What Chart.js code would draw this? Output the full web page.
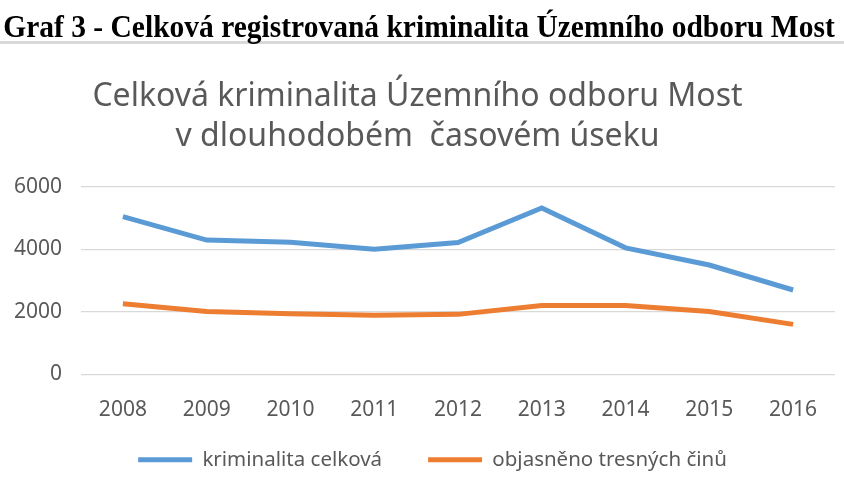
<!DOCTYPE html>
<html>
<head>
<meta charset="utf-8">
<script src="https://cdn.jsdelivr.net/npm/chart.js@4.4.1/dist/chart.umd.min.js"></script>
<style>
  html, body { margin: 0; padding: 0; background: #fff; }
  #wrap { position: relative; width: 844px; height: 492px; overflow: hidden; }
  #heading {
    position: absolute; left: 419px; top: 8px;
    font-family: "Liberation Serif", "Times New Roman", serif;
    font-weight: bold; font-size: 32px; line-height: 36px;
    color: #000; white-space: nowrap;
    transform: translateX(-50%) scaleX(0.922);
  }
  #rule { position: absolute; left: 0; top: 41px; width: 844px; height: 3px; background: #d9d9d9; }
  #chartBox { position: absolute; left: 0; top: 0; width: 844px; height: 492px; }
</style>
</head>
<body>
<div id="wrap">
  <canvas id="chartBox" width="844" height="492"></canvas>
  <div id="rule"></div>
  <div id="heading">Graf 3 - Celková registrovaná kriminalita Územního odboru Most</div>
</div>
<script>
// data
const years = ['2008', '2009', '2010', '2011', '2012', '2013', '2014', '2015', '2016'];
const totalCrime = [5050, 4300, 4230, 4010, 4220, 5330, 4050, 3500, 2700];
const solvedCrime = [2260, 2010, 1940, 1890, 1920, 2200, 2200, 2010, 1600];
const yTicks = [0, 2000, 4000, 6000];

const seriesNames = ['kriminalita celková', 'objasněno tresných činů'];
const titleLines = ['Celková kriminalita Územního odboru Most', 'v dlouhodobém  časovém úseku'];

const textGrey = '#595959';
const fontName = '"Noto Sans", "Open Sans", sans-serif';

// legend padding is used both between items and above the row;
// keep the wide item gap but give the row the height of a small padding
const itemGap = 46;
const rowPad = 12;
const legendSpacing = {
  id: 'legendSpacing',
  afterInit(c) {
    const lg = c.legend;
    const fit = lg.fit;
    lg.fit = function () {
      fit.call(this);
      this.height -= itemGap - rowPad;
    };
  },
  afterLayout(c) {
    c.legend.top -= itemGap - rowPad;
    c.legend.left += 30;
  }
};

const ctx = document.getElementById('chartBox').getContext('2d');
const chart = new Chart(ctx, {
  type: 'line',
  data: {
    labels: years,
    datasets: [
      {
        label: seriesNames[0],
        data: totalCrime,
        borderColor: '#5B9BD5',
        backgroundColor: '#5B9BD5',
        borderWidth: 5,
        pointRadius: 0,
        tension: 0
      },
      {
        label: seriesNames[1],
        data: solvedCrime,
        borderColor: '#ED7D31',
        backgroundColor: '#ED7D31',
        borderWidth: 5,
        pointRadius: 0,
        tension: 0
      }
    ]
  },
  options: {
    responsive: false,
    animation: false,
    layout: { padding: { left: 0, right: 9, top: 77, bottom: 12 } },
    plugins: {
      title: {
        display: true,
        text: titleLines,
        color: textGrey,
        font: { family: fontName, size: 32, weight: 'normal', lineHeight: 1.25 },
        padding: { top: 0, bottom: 30 }
      },
      legend: {
        position: 'bottom',
        labels: {
          color: textGrey,
          font: { family: fontName, size: 20.5 },
          boxWidth: 54,
          boxHeight: 5,
          padding: itemGap,
          generateLabels(c) {
            const items = Chart.defaults.plugins.legend.labels.generateLabels(c);
            items.forEach(it => { it.lineWidth = 0; it.fillStyle = it.strokeStyle; });
            return items;
          }
        }
      },
      tooltip: { enabled: false }
    },
    scales: {
      x: {
        offset: true,
        grid: { display: false },
        border: { display: false },
        ticks: { color: textGrey, font: { family: fontName, size: 21 }, padding: 15 }
      },
      y: {
        min: 0,
        max: 6000,
        afterBuildTicks(axis) { axis.ticks = yTicks.map(v => ({ value: v })); },
        afterFit(axis) { axis.width = 81; },
        grid: { color: '#d9d9d9', lineWidth: 1.2, drawTicks: false },
        border: { display: false },
        ticks: {
          color: textGrey,
          font: { family: fontName, size: 21 },
          padding: 19,
          callback: v => String(v)
        }
      }
    }
  },
  plugins: [legendSpacing]
});
</script>
</body>
</html>
